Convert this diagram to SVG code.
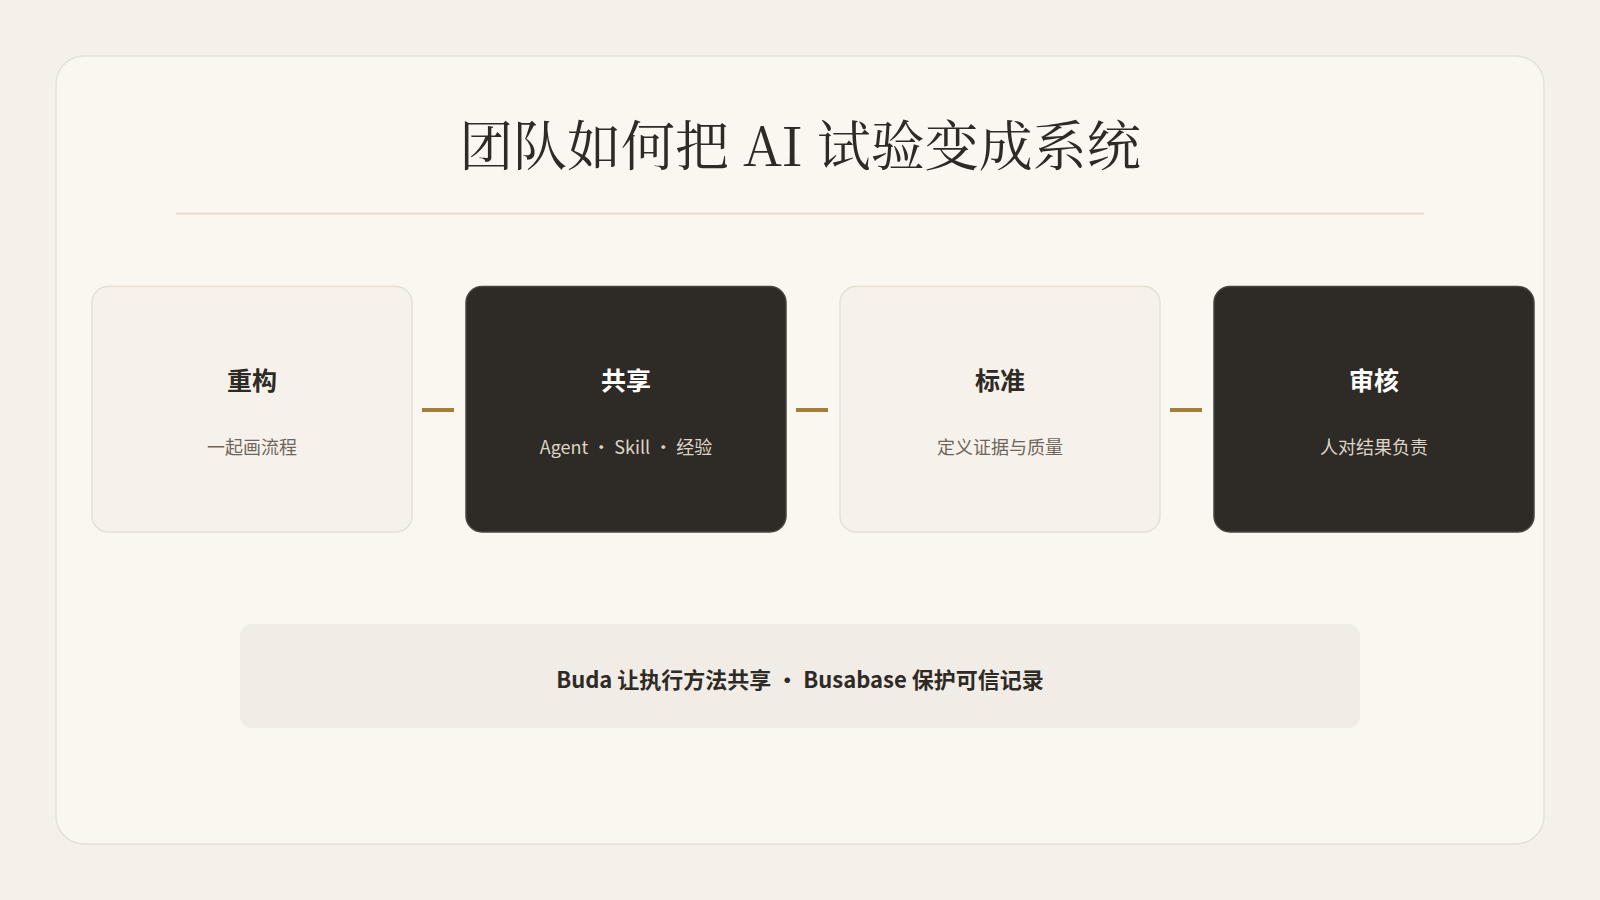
<svg xmlns="http://www.w3.org/2000/svg" width="1600" height="900" viewBox="0 0 1600 900">
<style>
.bg{fill:#f5f1ea}
.card{fill:#faf7f0;stroke:#e6e0d5;stroke-width:1.5}
.title{font-family:"Noto Serif CJK SC","Liberation Serif",serif;font-size:54px;fill:#2e2a25;text-anchor:middle}
.light{fill:#f6f2eb;stroke:#e6dfd3;stroke-width:1.5}
.dark{fill:#2e2a25;stroke:#4a443c;stroke-width:1.5}
.h{font-family:"Noto Sans CJK SC","Noto Sans",sans-serif;font-size:25px;font-weight:700;text-anchor:middle}
.s{font-family:"Noto Sans CJK SC","Noto Sans",sans-serif;font-size:18px;text-anchor:middle}
.hl{fill:#2e2a25}.hd{fill:#ffffff}
.sl{fill:#6e665c}.sd{fill:#dcd4c8}
.conn{stroke:#a47d3a;stroke-width:4}
.banner{fill:#f1ece5}
.bt{font-family:"Noto Sans CJK SC","Noto Sans",sans-serif;font-size:22px;font-weight:700;fill:#2e2a25;text-anchor:middle}
</style>
<rect class="bg" x="0" y="0" width="1600" height="900"/>
<rect class="card" x="56" y="56" width="1488" height="788" rx="28"/>
<text class="title" x="800" y="166">团队如何把 AI 试验变成系统</text>
<line x1="176" y1="213.5" x2="1424" y2="213.5" stroke="#e3dccf" stroke-width="2"/>
<g id="connectors">
<line class="conn" x1="422" y1="410" x2="454" y2="410"/>
<line class="conn" x1="796" y1="410" x2="828" y2="410"/>
<line class="conn" x1="1170" y1="410" x2="1202" y2="410"/>
</g>
<g id="node-chonggou">
<rect class="light" x="92" y="286.5" width="320" height="245.5" rx="16"/>
<text class="h hl" x="252" y="390">重构</text>
<text class="s sl" x="252" y="454">一起画流程</text>
</g>
<g id="node-gongxiang">
<rect class="dark" x="466" y="286.5" width="320" height="245.5" rx="16"/>
<text class="h hd" x="626" y="390">共享</text>
<text class="s sd" x="626" y="454">Agent • Skill • 经验</text>
</g>
<g id="node-biaozhun">
<rect class="light" x="840" y="286.5" width="320" height="245.5" rx="16"/>
<text class="h hl" x="1000" y="390">标准</text>
<text class="s sl" x="1000" y="454">定义证据与质量</text>
</g>
<g id="node-shenhe">
<rect class="dark" x="1214" y="286.5" width="320" height="245.5" rx="16"/>
<text class="h hd" x="1374" y="390">审核</text>
<text class="s sd" x="1374" y="454">人对结果负责</text>
</g>
<g id="banner">
<rect class="banner" x="240" y="624" width="1120" height="104" rx="12"/>
<text class="bt" x="800" y="688">Buda 让执行方法共享 • Busabase 保护可信记录</text>
</g>
</svg>
